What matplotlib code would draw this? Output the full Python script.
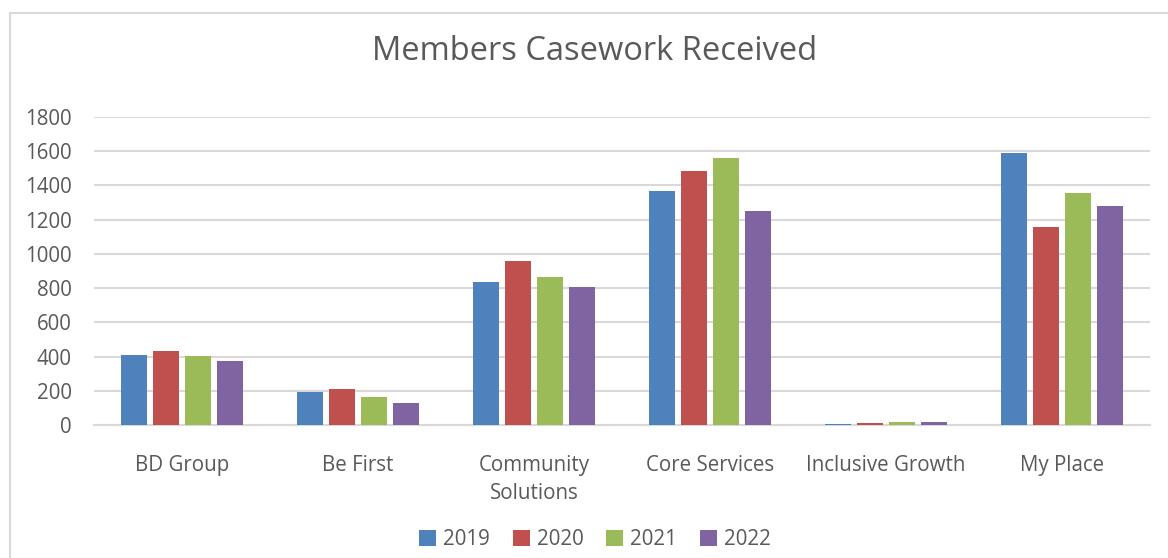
import numpy as np
import matplotlib.pyplot as plt
from matplotlib.patches import Rectangle

# casework numbers per directorate and year
categories = ["BD Group", "Be First", "Community\nSolutions", "Core Services",
              "Inclusive Growth", "My Place"]
years = ["2019", "2020", "2021", "2022"]
v2019 = [410, 194, 837, 1367, 8, 1587]
v2020 = [433, 212, 960, 1484, 14, 1156]
v2021 = [404, 165, 866, 1560, 19, 1354]
v2022 = [375, 130, 808, 1251, 19, 1278]
colors = ["#4F81BD", "#C0504D", "#9BBB59", "#8064A2"]

plt.rcParams['font.family'] = ['Open Sans', 'DejaVu Sans']
txt = "#595959"
grid = "#d9d9d9"

W, H = 1168, 558
fig = plt.figure(figsize=(W / 100, H / 100), dpi=100)
ax = fig.add_axes([94 / W, 1 - 425.3 / H, (1150 - 94) / W, (425.3 - 116.7) / H])

x = np.arange(len(categories))
step = 32 / 176
width = 26 / 176
series = [v2019, v2020, v2021, v2022]
for i, vals in enumerate(series):
    ax.bar(x + (i - 1.5) * step, vals, width, color=colors[i], label=years[i], zorder=3)

ax.set_xlim(-0.5, len(categories) - 0.5)
ax.set_ylim(0, 1800)
ax.set_yticks(np.arange(0, 1801, 200))
ax.set_xticks(x)
ax.set_xticklabels(categories, linespacing=1.45)
ax.yaxis.grid(True, color=grid, linewidth=1.5, zorder=0)
ax.set_axisbelow(True)
for s in ["left", "right", "top"]:
    ax.spines[s].set_visible(False)
ax.spines["bottom"].set_color(grid)
ax.spines["bottom"].set_linewidth(1.5)
ax.tick_params(axis="y", length=0, pad=16, labelsize=14.8, labelcolor=txt)
ax.tick_params(axis="x", length=0, pad=21.2, labelsize=14.8, labelcolor=txt)

fig.text(595 / W, 1 - 51 / H, "Members Casework Received", ha="center", va="center",
         fontsize=23.5, color=txt)

leg = fig.legend(loc="center", bbox_to_anchor=(595 / W, 1 - 539.5 / H), ncol=4,
                 frameon=False, fontsize=14.8, handlelength=0.82, handleheight=0.82,
                 handletextpad=0.34, columnspacing=1.12)
for t in leg.get_texts():
    t.set_color(txt)

# outer chart border
fig.patches.append(Rectangle((10 / W, -0.1), 1.2, 1 - 13 / H + 0.1,
                             transform=fig.transFigure, fill=False,
                             edgecolor=grid, linewidth=1.5))

fig.savefig("out.png", dpi=100)
